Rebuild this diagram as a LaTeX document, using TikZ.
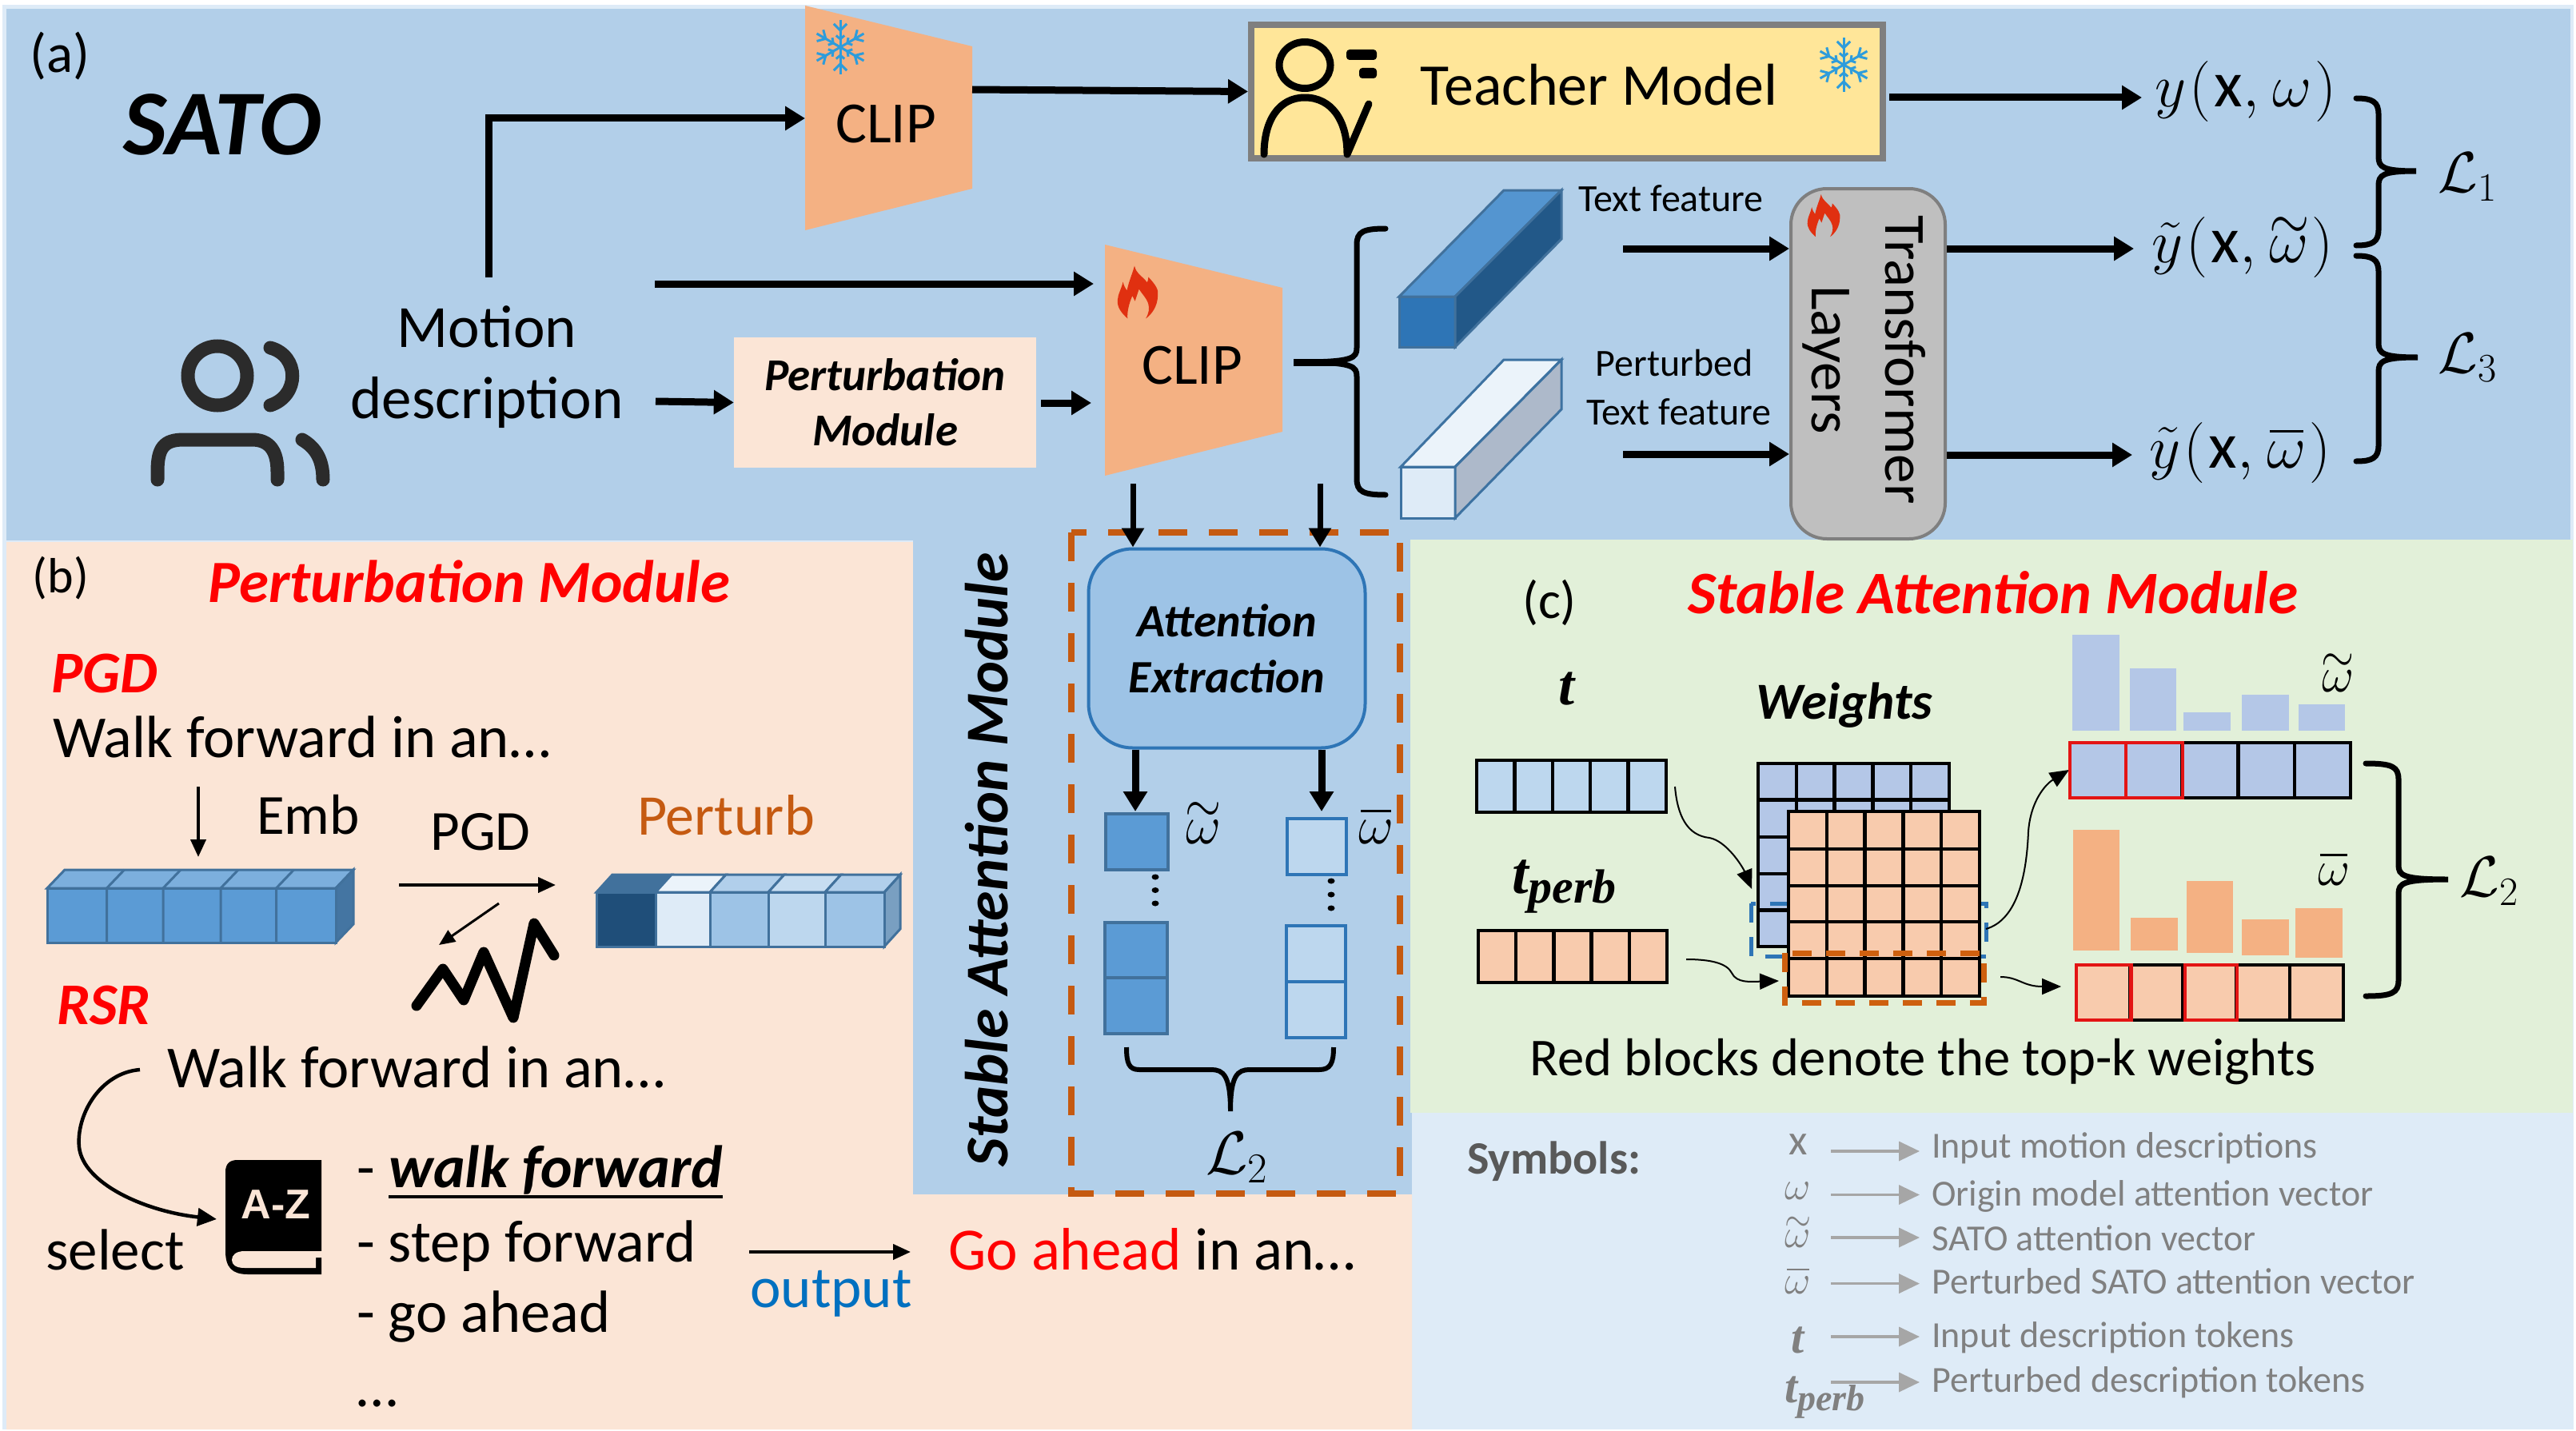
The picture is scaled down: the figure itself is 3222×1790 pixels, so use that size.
\RequirePackage{fix-cm}
\documentclass[tikz,border=0pt]{standalone}
\usepackage{graphicx}
\usepackage{fontspec}
\setmainfont{Carlito}
\newfontfamily\tfont{Liberation Serif}
\newfontfamily\hfont{Liberation Sans}
\usetikzlibrary{arrows.meta}
\definecolor{panelblue}{HTML}{B2CFE9}
\definecolor{panelpeach}{HTML}{FBE5D6}
\definecolor{panelgreen}{HTML}{E2F0D9}
\definecolor{panellight}{HTML}{DEEBF7}
\definecolor{clipor}{HTML}{F4B183}
\definecolor{teachy}{HTML}{FFE699}
\definecolor{midgrey}{HTML}{7F7F7F}
\definecolor{cellblue}{HTML}{5B9BD5}
\definecolor{celledge}{HTML}{41719C}
\definecolor{lightcell}{HTML}{BDD7EE}
\definecolor{edgeblue}{HTML}{2E75B6}
\definecolor{attn}{HTML}{9DC3E6}
\definecolor{dashor}{HTML}{C55A11}
\definecolor{wblue}{HTML}{B4C7E7}
\definecolor{wor}{HTML}{F8CBAD}
\definecolor{redbk}{HTML}{E31414}
\definecolor{iconink}{HTML}{2B2B2B}
\definecolor{snowc}{HTML}{2D9CDB}
\definecolor{flamec}{HTML}{E03010}
\definecolor{darkcell}{HTML}{1F4E79}
\definecolor{sidegrey}{HTML}{ADB9CA}
\newcommand{\fs}[1]{\fontsize{#1}{#1}\selectfont}
\newcommand{\tbi}{\tfont\bfseries\itshape}
\newcommand{\wtil}{\mbox{\ooalign{$\omega$\cr\hidewidth\raisebox{.39em}{\scalebox{.85}[1]{$\sim$}}\hidewidth\cr}}}
\newcommand{\wbar}{\mbox{\ooalign{$\omega$\cr\hidewidth\rule[.58em]{.56em}{.045em}\hidewidth\cr}}}
\newcommand{\outexpr}[2]{$#1\mkern1mu(\mkern1mu\mbox{\fs{82}x},\mkern1mu#2\mkern1mu)$}
\tikzset{
  txt/.style={inner sep=0pt,anchor=base},
  txtl/.style={inner sep=0pt,anchor=base west},
  mth/.style={inner sep=0pt,anchor=center},
  bigarrow/.style={line width=9pt,-{Triangle[length=25pt,width=29pt]}},
  midarrow/.style={line width=7pt,-{Triangle[length=24pt,width=27pt]}},
  thinarrow/.style={line width=4pt,-{Triangle[length=22pt,width=19pt]}},
  curvearrow/.style={line width=2pt,-{Triangle[length=24pt,width=20pt]}},
  greyarrow/.style={line width=3.5pt,draw=black!35,-{Triangle[length=26pt,width=24pt]}},
  bracestyle/.style={line width=7pt,line cap=round},
  gridline/.style={line width=4.5pt,draw=black},
  redcell/.style={line width=4.5pt,draw=redbk},
  blockedge/.style={line width=3pt,draw=celledge},
  iconline/.style={line width=17pt,line cap=round,draw=iconink},
}
\newcommand{\snow}[3]{\begin{scope}[shift={(#1,#2)},draw=snowc,line width=3pt]
  \foreach \a in {30,90,...,330}{
    \draw (0,0)--(\a:#3);
    \draw (\a:0.62*#3)--++(\a+45:0.34*#3);
    \draw (\a:0.62*#3)--++(\a-45:0.34*#3);
    \draw (\a:0.3*#3)--++(\a+50:0.2*#3);
    \draw (\a:0.3*#3)--++(\a-50:0.2*#3);
  }\end{scope}}
\newcommand{\flame}[3]{\begin{scope}[shift={(#1,#2)},x=#3pt,y=#3pt]
  \fill[flamec] (-.06,.5) .. controls (-.03,.35) and (.1,.3) .. (.175,.19) .. controls (.19,.22) .. (.2,.29) .. controls (.33,.15) and (.4,.05) .. (.375,-.06) .. controls (.37,-.25) and (.27,-.4) .. (.15,-.485) .. controls (.21,-.38) and (.22,-.3) .. (.2,-.22) .. controls (.17,-.1) and (.08,-.03) .. (.025,.065) -- (-.05,-.16) -- (-.1,-.06) .. controls (-.16,-.2) and (-.2,-.35) .. (-.19,-.485) .. controls (-.3,-.38) and (-.39,-.28) .. (-.375,-.135) .. controls (-.37,-.03) and (-.3,.08) .. (-.275,.2) .. controls (-.26,.13) and (-.23,.08) .. (-.2,.04) .. controls (-.17,.2) and (-.1,.35) .. (-.06,.5) -- cycle;
  \end{scope}}
\newcommand{\rbr}[7]{\draw[bracestyle] (#1,#4) .. controls ({#2-8*#7},#4) and (#2,{#4+4}) .. (#2,{#4+20}) -- (#2,{#5-18}) .. controls (#2,{#5-5}) and ({#2+5*#7},#5) .. (#3,#5) .. controls ({#2+5*#7},#5) and (#2,{#5+5}) .. (#2,{#5+18}) -- (#2,{#6-20}) .. controls (#2,{#6-4}) and ({#2-8*#7},#6) .. (#1,#6);}
\newcommand{\rowcells}[5]{\draw[gridline,fill=#5] (#1,#2) rectangle (#3,#4);
  \foreach \i in {1,2,3,4}{\draw[gridline] ({#1+(#3-#1)*\i/5},#2) -- ({#1+(#3-#1)*\i/5},#4);}}
\begin{document}
\begin{tikzpicture}[x=1pt,y=-1pt]
\useasboundingbox (0,0) rectangle (3222,1790);
% panels
\fill[white] (0,0) rectangle (3222,1790);
\fill[panellight] (3,6) rectangle (3219,1788);
\fill[panelblue] (8,11) rectangle (3215,676);
\fill[panelpeach] (8,678) -- (1142,678) -- (1142,1494) -- (1766,1494) -- (1766,1788) -- (8,1788) -- cycle;
\fill[panelblue] (1142,675) rectangle (1766,1494);
\fill[panelgreen] (1764,675) rectangle (3218,1392);
\fill[panellight] (1768,1392) rectangle (3215,1788);
% (a) heading
\node[mth] (lbla) at (75,70) {\fs{69}(a)};
\node[mth] (sato) at (278,156) {\fs{116}\bfseries\itshape SATO};
% CLIP 1
\fill[clipor] (1007,7) -- (1216,58) -- (1216,236) -- (1007,288) -- cycle;
\node[mth] (clipa) at (1108,155) {\fs{73}CLIP};
\snow{1051}{59}{34}
% person icon
\draw[iconline] (272,470) ellipse (37 and 37);
\draw[iconline] (338,435) .. controls (375,445) and (375,495) .. (338,507);
\draw[iconline] (197,600) -- (197,590) .. controls (197,560) and (205,550) .. (230,550) -- (315,550) .. controls (338,550) and (347,565) .. (347,590) -- (347,600);
\draw[iconline] (378,550) .. controls (395,560) and (404,575) .. (404,600);
% motion text
\node[inner sep=0pt,align=center,font=\fontsize{75}{89}\selectfont] (motion) at (609,459) {Motion\\description};
% pert box
\node[fill=panelpeach,minimum width=378pt,minimum height=163pt,inner sep=0pt,align=center,font=\fontsize{57}{69}\selectfont\bfseries\itshape] (pertbox) at (1107,503.5) {Perturbation\\Module};
% CLIP 2
\fill[clipor] (1382,306) -- (1604,360) -- (1604,540) -- (1382,595) -- cycle;
\node[mth] (clipb) at (1491,457) {\fs{73}CLIP};
\flame{1423}{366}{67}
% connectors top left
\coordinate (mup) at (611,347);
\coordinate (mcorner) at (611,148);
\coordinate (clipain) at (1007,148);
\draw[bigarrow] (mup) -- (mcorner) -- (clipain);
\coordinate (mright) at (819,355);
\coordinate (clipbin) at (1368,355);
\draw[bigarrow] (mright) -- (clipbin);
\coordinate (mperts) at (820,502);
\draw[bigarrow] (mperts) -- (pertbox.west);
\coordinate (pertout) at (1302,504);
\coordinate (clipbin2) at (1365,504);
\draw[bigarrow] (pertout) -- (clipbin2);
% teacher
\node[fill=teachy,draw=midgrey,line width=8pt,minimum width=790pt,minimum height=167pt,inner sep=0pt] (teacher) at (1960,114.5) {};
\node[txt] (teachertext) at (2000,132) {\fs{74}Teacher Model};
\snow{2306}{81}{34}
\draw[black,line width=9pt,line cap=round] (1632,81.5) ellipse (32 and 29);
\draw[black,line width=9pt,line cap=round,line join=round] (1581,193) .. controls (1581,150) and (1600,122) .. (1632,122) .. controls (1665,122) and (1685,150) .. (1685,193) -- (1712,130);
\fill[black,rounded corners=4pt] (1684,62) rectangle (1722,75);
\fill[black,rounded corners=4pt] (1700,85) rectangle (1722,98);
\coordinate (clipaout) at (1216,112);
\draw[bigarrow] (clipaout) -- (teacher.west);
\coordinate (ya) at (2679,122);
\coordinate (teachout) at (2363,122);
\draw[bigarrow] (teachout) -- (ya);
% outputs
\node[mth] (outa) at (2809,115) {\fs{76}\outexpr{y}{\omega}};
\node[mth] (outb) at (2805,310) {\fs{76}\outexpr{\tilde{y}}{\wtil}};
\node[mth] (outc) at (2802,566) {\fs{76}\outexpr{\tilde{y}}{\wbar}};
% feature blocks
\filldraw[draw=celledge,line width=3pt,fill=edgeblue] (1750,371) rectangle (1820,434);
\filldraw[draw=celledge,line width=3pt,fill=cellblue!85!edgeblue] (1750,371) -- (1881,238) -- (1953,238) -- (1820,371) -- cycle;
\filldraw[draw=celledge,line width=3pt,fill=edgeblue!75!black] (1820,371) -- (1953,238) -- (1953,299) -- (1820,434) -- cycle;
\filldraw[draw=celledge!80!edgeblue,line width=3pt,fill=panellight] (1752,584) rectangle (1820,648);
\filldraw[draw=celledge!80!edgeblue,line width=3pt,fill=panellight!60!white] (1752,584) -- (1881,450) -- (1953,450) -- (1820,584) -- cycle;
\filldraw[draw=celledge!80!edgeblue,line width=3pt,fill=sidegrey] (1820,584) -- (1953,450) -- (1953,512) -- (1820,648) -- cycle;
\node[txt] (tf) at (2090,264.5) {\fs{48}Text feature};
\node[txt] (ptfa) at (2094,470) {\fs{48}Perturbed};
\node[txt] (ptfb) at (2100,531) {\fs{48}Text feature};
% transformer
\node[fill=black!25,draw=midgrey,line width=4pt,rounded corners=45pt,minimum width=193pt,minimum height=438pt,inner sep=0pt] (trans) at (2336.5,455) {};
\node[inner sep=0pt,rotate=-90,align=center,font=\fontsize{73}{92}\selectfont] (transtext) at (2332,450) {Transformer\\Layers};
\flame{2281}{270}{54}
\coordinate (tfout) at (2030,311);
\coordinate (ptfout) at (2030,568);
\draw[bigarrow] (tfout) -- (trans.west |- tfout);
\draw[bigarrow] (ptfout) -- (trans.west |- ptfout);
\coordinate (ytb) at (2669,311);
\coordinate (ytc) at (2667,569);
\draw[bigarrow] (trans.east |- ytb) -- (ytb);
\draw[bigarrow] (trans.east |- ytc) -- (ytc);
% braces
\rbr{1733}{1697}{1625}{286}{453}{619}{-1}
\draw[line width=9pt] (1618,453) -- (1680,453);
\rbr{2947}{2975}{3022}{123}{214}{307}{1}
\rbr{2947}{2975}{3024}{320}{447}{577}{1}
\node[mth] (lossa) at (3086,221) {\fs{72}$\mathcal{L}_1$};
\node[mth] (lossc) at (3086,447) {\fs{72}$\mathcal{L}_3$};
% (b)
\node[mth] (lblb) at (76,723) {\fs{62}(b)};
\node[txt,text=red] (ptitle) at (587,753) {\fs{75}\bfseries\itshape Perturbation Module};
\node[txtl,text=red] (pgdh) at (64,866) {\fs{74}\bfseries\itshape PGD};
\node[txtl] (walka) at (66,947) {\fs{74.5}Walk forward in an\dots};
\coordinate (embtop) at (248,984);
\coordinate (embbot) at (248,1072);
\draw[thinarrow] (embtop) -- (embbot);
\node[txtl] (emb) at (321,1043) {\fs{71}Emb};
\node[txt] (pgdl) at (601,1063) {\fs{71}PGD};
\node[txtl,text=dashor] (perturb) at (797,1044) {\fs{72}Perturb};
% row 1
\filldraw[blockedge,fill=cellblue!80!white] (59,1111) -- (81,1088) -- (442,1088) -- (420,1111) -- cycle;
\filldraw[blockedge,fill=celledge!90!cellblue] (420,1111) -- (442,1088) -- (442,1156) -- (420,1179) -- cycle;
\filldraw[blockedge,fill=cellblue] (59,1111) rectangle (420,1179);
\foreach \x in {133.5,204,276,345.5}{\draw[blockedge] (\x,1111) -- (\x,1179) (\x,1111) -- ({\x+22},1088);}
% row 2
\def\yt{1116}\def\yb{1184}\def\yu{1094}
\filldraw[blockedge,fill=celledge!55!lightcell] (1106,\yt) -- (1126,\yu) -- (1126,1162) -- (1106,\yb) -- cycle;
\foreach \xa/\xb/\fc/\tc in {746/820/darkcell/celledge,820/888/panellight/panellight!60!white,888/961/attn/attn!80!white,961/1032/lightcell/lightcell!85!white,1032/1106/attn/attn!80!white}{
  \filldraw[blockedge,fill=\tc] (\xa,\yt) -- ({\xa+20},\yu) -- ({\xb+20},\yu) -- (\xb,\yt) -- cycle;
  \filldraw[blockedge,fill=\fc] (\xa,\yt) rectangle (\xb,\yb);
}
% PGD arrows and zigzag
\coordinate (pgda) at (499,1107);
\coordinate (pgdb) at (695,1107);
\draw[thinarrow] (pgda) -- (pgdb);
\coordinate (zza) at (624,1130);
\coordinate (zzb) at (549,1182);
\draw[line width=3pt,-{Triangle[length=20pt,width=17pt]}] (zza) -- (zzb);
\draw[line width=13pt,line cap=round,line join=round] (521,1258) -- (554,1212) -- (580,1251) -- (605,1191) -- (642,1273) -- (668,1155) -- (693,1195);
\node[txtl,text=red] (rsr) at (71,1281) {\fs{74}\bfseries\itshape RSR};
\node[txtl] (walkb) at (209,1360) {\fs{74.5}Walk forward in an\dots};
\coordinate (sela) at (175,1338);
\coordinate (selb) at (271,1525);
\draw[line width=4.5pt,-{Triangle[length=24pt,width=22pt]}] (sela) .. controls (125,1342) and (95,1395) .. (99,1435) .. controls (104,1480) and (180,1515) .. (selb);
\node[txtl] (selecttxt) at (57,1588) {\fs{73}select};
% book
\fill[black] (297,1451) -- (402,1451) -- (402,1594) -- (310,1594) .. controls (290,1594) and (282,1585) .. (282,1565) -- (282,1466) .. controls (282,1456) and (287,1451) .. (297,1451) -- cycle;
\fill[panelpeach] (403,1565) -- (306,1565) .. controls (295,1565) and (290,1570) .. (290,1576) .. controls (290,1582) and (295,1586) .. (306,1586) -- (395,1586) -- (395,1573) -- (403,1573) -- cycle;
\node[mth,text=panelpeach] (az) at (345,1507) {\fs{52}\hfont\bfseries A-Z};
% list
\node[txtl] (da) at (446,1485.5) {\fs{74}-};
\node[txtl] (wf) at (486,1485.5) {\fs{75}\bfseries\itshape walk forward};
\draw[line width=4pt] (wf.west |- 0,1497) -- (wf.east |- 0,1497);
\node[txtl] (sf) at (446,1578) {\fs{74.5}- step forward};
\node[txtl] (ga) at (446,1666) {\fs{74.5}- go ahead};
\node[txtl] (more) at (446,1759) {\fs{74}\dots};
\coordinate (oa) at (937,1566);
\coordinate (ob) at (1139,1566);
\draw[thinarrow] (oa) -- (ob);
\node[txtl,text={rgb,255:red,0;green,112;blue,192}] (outp) at (938,1635) {\fs{73}output};
\node[txtl] (goah) at (1186,1588) {\fs{75}\textcolor{red}{Go ahead} in an\dots};
% stable attention column
\node[inner sep=0pt,rotate=90,anchor=base] (samv) at (1260,1075) {\fs{76}\bfseries\itshape Stable Attention Module};
\draw[dashor,line width=8pt,dash pattern=on 36pt off 27pt] (1340,666) rectangle (1751,1493);
\node[fill=attn,draw=edgeblue,line width=4pt,rounded corners=55pt,minimum width=346pt,minimum height=249pt,inner sep=0pt,align=center,font=\fontsize{58}{70}\selectfont\bfseries\itshape] (attbox) at (1534.5,811) {Attention\\Extraction};
\coordinate (ina) at (1417,605);
\coordinate (inb) at (1651,605);
\draw[midarrow] (ina) -- (ina |- attbox.north);
\draw[midarrow] (inb) -- (inb |- attbox.north);
\coordinate (sqa) at (1420,1015);
\coordinate (sqb) at (1653,1015);
\draw[bigarrow] (sqa |- attbox.south) -- (sqa);
\draw[bigarrow] (sqb |- attbox.south) -- (sqb);
\filldraw[draw=celledge,line width=4pt,fill=cellblue] (1383,1018) rectangle (1461,1088);
\filldraw[draw=celledge,line width=4pt,fill=cellblue] (1382,1154) rectangle (1460,1293);
\draw[draw=celledge,line width=4pt] (1382,1223) -- (1460,1223);
\filldraw[draw=edgeblue,line width=4pt,fill=lightcell] (1610,1024) rectangle (1684,1094);
\filldraw[draw=edgeblue,line width=4pt,fill=lightcell] (1609,1158) rectangle (1683,1298);
\draw[draw=edgeblue,line width=4pt] (1609,1227.5) -- (1683,1227.5);
\foreach \yy in {1097,1113.5,1130}{\fill (1445,\yy) ellipse (4.5 and 3.5);}
\foreach \yy in {1102,1119,1136}{\fill (1665,\yy) ellipse (4.5 and 3.5);}
\node[txt] (wta) at (1505,1055) {\fs{68}\wtil};
\node[txt] (wba) at (1721,1055) {\fs{68}\wbar};
\draw[line width=6pt] (1409,1310) .. controls (1409,1330) and (1412,1338) .. (1425,1338) -- (1515,1338) .. controls (1530,1338) and (1539,1345) .. (1539,1390) .. controls (1539,1345) and (1548,1338) .. (1563,1338) -- (1650,1338) .. controls (1664,1338) and (1668,1330) .. (1668,1310);
\node[mth] (lossb) at (1547,1448) {\fs{76}$\mathcal{L}_2$};
% (c)
\node[mth] (lblc) at (1938,754) {\fs{66}(c)};
\node[txt,text=red] (stitle) at (2493,767) {\fs{75.5}\bfseries\itshape Stable Attention Module};
\node[txt] (tlbl) at (1959,881) {\fs{72}\tbi t};
\node[txtl] (tplbl) at (1891,1117) {\fs{74}\tbi t\raisebox{-12pt}{\fs{60}\tbi perb}};
\rowcells{1847}{951}{2084}{1016}{lightcell}
\rowcells{1849}{1164}{2085}{1229}{wor}
\node[txt] (weights) at (2307,899) {\fs{65}\bfseries\itshape Weights};
% blue matrix
\rowcells{2199}{955}{2438}{1184}{wblue}
\foreach \yy in {1000.5,1047,1093,1138.5}{\draw[gridline] (2199,\yy) -- (2438,\yy);}
\draw[edgeblue,line width=5pt,dash pattern=on 24pt off 18pt] (2190,1130) rectangle (2484,1196);
% orange matrix
\rowcells{2237}{1015}{2476}{1246}{wor}
\foreach \yy in {1062,1108,1153,1199}{\draw[gridline] (2237,\yy) -- (2476,\yy);}
\draw[dashor!85!orange,line width=7pt,dash pattern=on 24pt off 18pt] (2232,1192) rectangle (2481,1254);
% thin curves
\coordinate (ca) at (2095,984);
\coordinate (cb) at (2191,1112);
\draw[curvearrow] (ca) .. controls (2098,1020) and (2110,1045) .. (2138,1048) .. controls (2160,1052) and (2180,1085) .. (cb);
\coordinate (da1) at (2109,1200);
\coordinate (db1) at (2225,1227);
\draw[curvearrow] (da1) .. controls (2140,1200) and (2160,1205) .. (2166,1217) .. controls (2172,1230) and (2190,1228) .. (db1);
\coordinate (ea) at (2484,1162);
\coordinate (eb) at (2588,963);
\draw[curvearrow] (ea) .. controls (2525,1150) and (2535,1090) .. (2537,1040) .. controls (2540,1000) and (2560,980) .. (eb);
\coordinate (fa) at (2502,1222);
\coordinate (fb) at (2578,1234);
\draw[curvearrow] (fa) .. controls (2525,1222) and (2530,1234) .. (fb);
% bars
\foreach \xa/\xb/\yy in {2592/2651/794,2664/2722/836,2731/2790/891,2804/2863/869,2875/2933/881}{\fill[wblue] (\xa,\yy) rectangle (\xb,913.5);}
\foreach \xa/\xb/\yy/\yz in {2593/2651/1038/1189,2665/2724/1148/1189,2735/2793/1102/1192,2804/2863/1150/1195,2871/2930/1136/1198}{\fill[clipor] (\xa,\yy) rectangle (\xb,\yz);}
\node[txt] (wtb) at (2924,865) {\fs{62}\wtil};
\node[txt] (wbb) at (2919,1107) {\fs{62}\wbar};
\rowcells{2589}{929}{2940}{998}{wblue}
\draw[redcell] (2589,929) rectangle (2659,998);
\draw[redcell] (2659,929) rectangle (2730,998);
\rowcells{2597}{1207}{2931}{1276}{wor}
\draw[redcell] (2597,1207) rectangle (2665.5,1276);
\draw[redcell] (2733,1207) rectangle (2798,1276);
\rbr{2959}{3000}{3062}{955}{1100}{1246}{1}
\node[mth] (lossd) at (3113,1102) {\fs{72}$\mathcal{L}_2$};
\node[txt] (redtxt) at (2405,1345) {\fs{66.6}Red blocks denote the top-k weights};
% symbols
\node[txtl,text=black!65] (symh) at (1835,1468) {\fs{58}\bfseries Symbols:};
\def\symc{black!50}
\foreach \nn/\yy/\tt in {a/1448/Input motion descriptions,b/1508/Origin model attention vector,c/1564.5/SATO attention vector,d/1618/Perturbed SATO attention vector,e/1685/Input description tokens,f/1741/Perturbed description tokens}{
  \node[txtl,text=\symc] (sym\nn) at (2416,\yy) {\fs{46}\tt};
}
\foreach \nn/\yy in {a/1440,b/1494.5,c/1548,d/1605.6,e/1672,f/1729}{
  \coordinate (syma\nn) at (2290,\yy);
  \coordinate (symb\nn) at (2401,\yy);
  \draw[greyarrow] (syma\nn) -- (symb\nn);
}
\node[mth,text=\symc] (sxa) at (2249,1432) {\fs{54}x};
\node[txt,text=\symc] (sxb) at (2249,1500) {\fs{50}$\omega$};
\node[txt,text=\symc] (sxc) at (2249,1560) {\fs{50}\wtil};
\node[txt,text=\symc] (sxd) at (2249,1618) {\fs{50}\wbar};
\node[txt,text=\symc] (sxe) at (2249,1692) {\fs{58}\tbi t};
\node[txtl,text=\symc] (sxf) at (2232,1754) {\fs{58}\tbi t\raisebox{-10pt}{\fs{46}\tbi perb}};
\end{tikzpicture}
\end{document}
